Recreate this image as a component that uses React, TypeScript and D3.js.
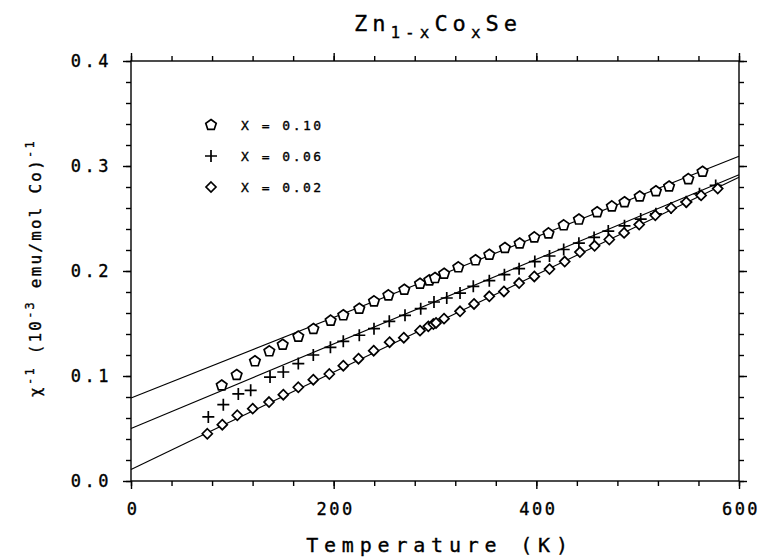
import { useRef, useEffect } from "react";
import * as d3 from "d3";

// x = 0.10 (pentagons)
const tempA = [89.5, 104.3, 122.3, 136.5, 149.7, 165.1, 180, 197, 209.5, 225.3, 239.8, 254, 269.7, 285.2, 294.4, 300, 309, 323, 340, 353.6, 369, 383.5, 398, 412, 427, 442, 460, 474.5, 487, 502, 518, 531, 550, 564];
const chiA = [0.091, 0.101, 0.114, 0.1235, 0.1298, 0.1375, 0.1448, 0.1527, 0.1578, 0.1641, 0.1711, 0.1768, 0.1822, 0.1879, 0.1911, 0.1933, 0.1974, 0.2035, 0.2102, 0.2155, 0.2219, 0.2262, 0.232, 0.2358, 0.2435, 0.249, 0.256, 0.2615, 0.2655, 0.271, 0.276, 0.2805, 0.2875, 0.2945];

// x = 0.06 (pluses)
const tempB = [76.3, 91.1, 105.9, 118.1, 137.2, 150.3, 165.1, 179.9, 196.8, 209.5, 225.3, 239.8, 254.9, 270.4, 285.9, 299, 311.6, 324.7, 337.8, 353.6, 368.5, 383, 398.5, 413, 427, 442, 457, 471, 487, 503, 518, 533, 548, 561, 577];
const chiB = [0.061, 0.0727, 0.0829, 0.0864, 0.099, 0.1038, 0.1118, 0.12, 0.1273, 0.133, 0.1388, 0.1451, 0.1521, 0.1578, 0.1641, 0.1705, 0.1743, 0.179, 0.1854, 0.1908, 0.1965, 0.2022, 0.209, 0.2143, 0.2205, 0.2265, 0.232, 0.238, 0.243, 0.2495, 0.2545, 0.26, 0.266, 0.2735, 0.2815];

// x = 0.02 (diamonds)
const tempC = [75.3, 90.1, 104.9, 120.1, 136.2, 150.3, 165.1, 179.9, 195.7, 209.5, 224.5, 239.5, 255.2, 269.2, 285.2, 293.4, 298.4, 301, 308.9, 324.7, 338.5, 353.6, 368, 383, 398, 413, 428, 443, 457.5, 472, 486.6, 501.5, 517.4, 533, 548, 562.6, 579];
const chiC = [0.045, 0.0536, 0.0626, 0.0689, 0.0752, 0.0822, 0.0893, 0.0965, 0.1019, 0.1098, 0.1165, 0.1241, 0.1322, 0.1365, 0.1432, 0.1473, 0.1495, 0.1505, 0.1546, 0.1616, 0.1686, 0.1759, 0.1805, 0.1885, 0.1948, 0.2018, 0.209, 0.218, 0.224, 0.23, 0.2363, 0.2442, 0.253, 0.26, 0.2655, 0.272, 0.2785];

// Curie-Weiss fit lines: [chi^-1 at 0 K, chi^-1 at 600 K]
const fitA = [0.079, 0.3092];
const fitB = [0.05, 0.2917];
const fitC = [0.011, 0.2892];

const legendLabels = ["X = 0.10", "X = 0.06", "X = 0.02"];
const xMajor = [0, 200, 400, 600];
const yMajor = [0, 0.1, 0.2, 0.3, 0.4];

const FONT = "'DejaVu Sans Mono', monospace";

function pentagon(r: number) {
	const pts = d3.range(5).map((i) => {
		const a = -Math.PI / 2 + (i * 2 * Math.PI) / 5;
		return [r * Math.cos(a), r * Math.sin(a)];
	});
	return "M" + pts.map((p) => p.join(",")).join("L") + "Z";
}
function plus(r: number) {
	return `M${-r},0H${r}M0,${-r}V${r}`;
}
function diamond(r: number) {
	return `M0,${-r}L${r},0L0,${r}L${-r},0Z`;
}

export default function App() {
	const ref = useRef<SVGSVGElement>(null);

	useEffect(() => {
		const svg = d3.select(ref.current);
		svg.selectAll("*").remove();

		const x = d3.scaleLinear().domain([0, 600]).range([131, 739]);
		const y = d3.scaleLinear().domain([0, 0.4]).range([481, 61]);
		const [x0, x1] = x.range();
		const [y0, y1] = y.range();

		// ---- Frame ----
		svg.append("rect")
			.attr("x", x0)
			.attr("y", y1)
			.attr("width", x1 - x0)
			.attr("height", y0 - y1)
			.attr("fill", "none")
			.attr("stroke", "#000")
			.attr("stroke-width", 1.4);

		// ---- Ticks on all four sides ----
		const xMinor = d3.range(0, 601, 40);
		const yMinor = d3.range(0, 0.4001, 0.02);
		const xs: [any, number][] = [
			[d3.axisBottom(x), y0],
			[d3.axisTop(x), y1],
		];
		xs.forEach(([ax, ty]) => {
			const g1 = svg.append("g").attr("transform", `translate(0,${ty})`);
			g1.call(ax.tickValues(xMinor).tickSize(5).tickFormat(() => ""));
			const g2 = svg.append("g").attr("transform", `translate(0,${ty})`);
			g2.call(ax.tickValues(xMajor).tickSize(8).tickFormat(() => ""));
			[g1, g2].forEach((g) => {
				g.select(".domain").remove();
				g.selectAll("line").attr("stroke-width", 1.4);
			});
		});
		const ys: [any, number][] = [
			[d3.axisLeft(y), x0],
			[d3.axisRight(y), x1],
		];
		ys.forEach(([ax, tx]) => {
			const g1 = svg.append("g").attr("transform", `translate(${tx},0)`);
			g1.call(ax.tickValues(yMinor).tickSize(5).tickFormat(() => ""));
			const g2 = svg.append("g").attr("transform", `translate(${tx},0)`);
			g2.call(ax.tickValues(yMajor).tickSize(8).tickFormat(() => ""));
			[g1, g2].forEach((g) => {
				g.select(".domain").remove();
				g.selectAll("line").attr("stroke-width", 1.4);
			});
		});

		const txt = (sel: any, size: number, ls: number) =>
			sel.attr("font-family", FONT)
				.attr("font-size", size)
				.attr("letter-spacing", ls)
				.attr("fill", "#000")
				.attr("stroke", "#000")
				.attr("stroke-width", 0.35);

		// ---- Tick labels ----
		txt(
			svg.append("g")
				.selectAll("text")
				.data(xMajor)
				.join("text")
				.attr("x", (d) => x(d) + 2)
				.attr("y", y0 + 34)
				.attr("text-anchor", "middle")
				.text((d) => d),
			17,
			2.5
		);

		txt(
			svg.append("g")
				.selectAll("text")
				.data(yMajor)
				.join("text")
				.attr("x", 112)
				.attr("y", (d) => y(d) + 6)
				.attr("text-anchor", "end")
				.text((d) => d.toFixed(1)),
			17,
			3.5
		);

		// ---- Fit lines ----
		[fitA, fitB, fitC].forEach((f) => {
			svg.append("line")
				.attr("x1", x(0))
				.attr("y1", y(f[0]))
				.attr("x2", x(600))
				.attr("y2", y(f[1]))
				.attr("stroke", "#000")
				.attr("stroke-width", 1.1);
		});

		// ---- Data markers ----
		const series = [
			{ t: tempA, v: chiA, path: pentagon(5.5) },
			{ t: tempB, v: chiB, path: plus(6) },
			{ t: tempC, v: chiC, path: diamond(5) },
		];
		series.forEach((s) => {
			svg.append("g")
				.selectAll("path")
				.data(s.t)
				.join("path")
				.attr("transform", (d, i) => `translate(${x(d)},${y(s.v[i])})`)
				.attr("d", s.path)
				.attr("fill", "#fff")
				.attr("stroke", "#000")
				.attr("stroke-width", 1.7);
		});

		// ---- Legend ----
		const legend = svg.append("g").attr("transform", "translate(211,125)");
		series.forEach((s, i) => {
			legend.append("path")
				.attr("transform", `translate(0,${i * 31})`)
				.attr("d", s.path)
				.attr("fill", "#fff")
				.attr("stroke", "#000")
				.attr("stroke-width", 1.7);
			txt(
				legend.append("text")
					.attr("x", 30)
					.attr("y", i * 31 + 5)
					.text(legendLabels[i]),
				13,
				2.5
			);
		});

		// ---- Title ----
		const title = txt(
			svg.append("text")
				.attr("x", 438)
				.attr("y", 31)
				.attr("text-anchor", "middle"),
			22,
			5
		);
		title.append("tspan").text("Zn");
		title.append("tspan").attr("dy", 7).attr("font-size", 16).text("1-x");
		title.append("tspan").attr("dy", -7).text("Co");
		title.append("tspan").attr("dy", 7).attr("font-size", 16).text("x");
		title.append("tspan").attr("dy", -7).text("Se");

		// ---- Axis titles ----
		txt(
			svg.append("text")
				.attr("x", 440)
				.attr("y", 552)
				.attr("text-anchor", "middle")
				.text("Temperature (K)"),
			20,
			5.8
		);

		const yl = txt(
			svg.append("text")
				.attr("transform", "translate(41,268) rotate(-90)")
				.attr("text-anchor", "middle"),
			16,
			2.2
		);
		yl.append("tspan").text("χ");
		yl.append("tspan").attr("dy", -7).attr("font-size", 12).text("-1");
		yl.append("tspan").attr("dy", 7).text(" (10");
		yl.append("tspan").attr("dy", -7).attr("font-size", 12).text("-3");
		yl.append("tspan").attr("dy", 7).text(" emu/mol Co)");
		yl.append("tspan").attr("dy", -7).attr("font-size", 12).text("-1");
	}, []);

	return (
		<svg
			ref={ref}
			width={762}
			height={558}
			style={{ position: "absolute", left: 0, top: 0, background: "#fff" }}
		/>
	);
}
